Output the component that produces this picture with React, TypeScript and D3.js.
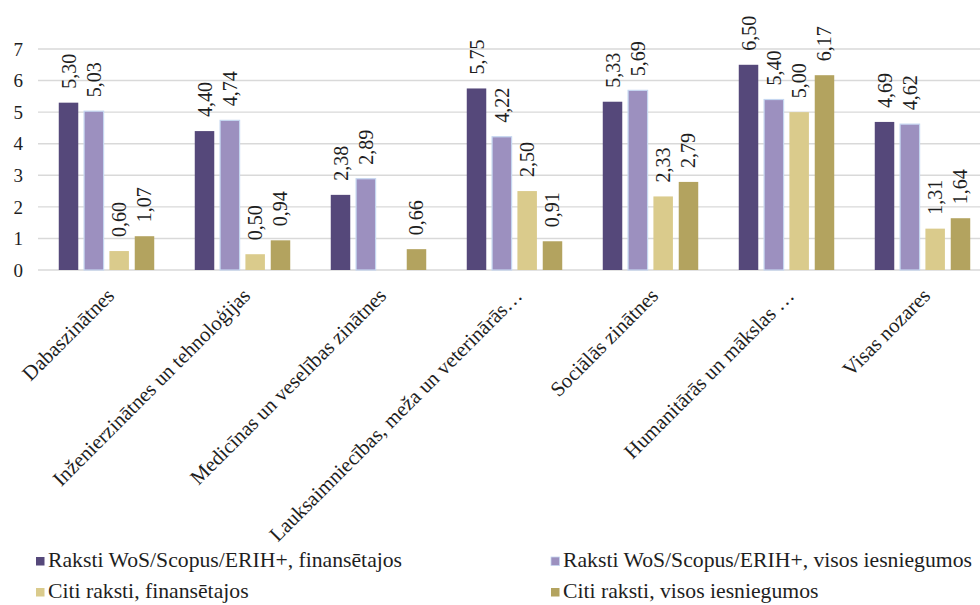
import React from "react";
import * as d3 from "d3";

const categories = [
  "Dabaszinātnes",
  "Inženierzinātnes un tehnoloģijas",
  "Medicīnas un veselības zinātnes",
  "Lauksaimniecības, meža un veterinārās…",
  "Sociālās zinātnes",
  "Humanitārās un mākslas  …",
  "Visas nozares",
];

const seriesNames = [
  "Raksti WoS/Scopus/ERIH+, finansētajos",
  "Raksti WoS/Scopus/ERIH+, visos iesniegumos",
  "Citi raksti, finansētajos",
  "Citi raksti, visos iesniegumos",
];

const wosFunded = [5.3, 4.4, 2.38, 5.75, 5.33, 6.5, 4.69];
const wosAll = [5.03, 4.74, 2.89, 4.22, 5.69, 5.4, 4.62];
const otherFunded: (number | null)[] = [0.6, 0.5, null, 2.5, 2.33, 5.0, 1.31];
const otherAll = [1.07, 0.94, 0.66, 0.91, 2.79, 6.17, 1.64];

const seriesValues = [wosFunded, wosAll, otherFunded, otherAll];
const yTicks = [0, 1, 2, 3, 4, 5, 6, 7];

const fills = ["#55487A", "#9C90BF", "#DACB8C", "#B3A35F"];
const strokes = ["none", "#C5D6F0", "none", "none"];

const W = 980;
const H = 605;
const FONT = "Liberation Serif";

export default function App() {
  const y = d3.scaleLinear().domain([0, 7]).range([270, 49]);
  const x0 = d3.scaleBand<string>().domain(categories).range([38.5, 990.5]).padding(0);
  const x1 = d3
    .scaleBand<number>()
    .domain([0, 1, 2, 3])
    .range([0, x0.bandwidth()])
    .paddingInner(0.23)
    .paddingOuter(0.8);
  const fmt = (v: number) => d3.format(".2f")(v).replace(".", ",");
  const txt = { fontFamily: FONT, fill: "#1e1e1e" } as React.CSSProperties;

  return (
    <svg
      width={W}
      height={H}
      style={{ position: "absolute", left: 0, top: 0, background: "#fff", fontFamily: FONT }}
    >
      {yTicks.map((t) => (
        <g key={t}>
          <line x1={38} x2={980} y1={y(t)} y2={y(t)} stroke="#D9D9D9" strokeWidth={1.4} />
          <text x={23} y={y(t)} dy="0.35em" textAnchor="end" fontSize={19} style={txt}>
            {t}
          </text>
        </g>
      ))}

      {categories.map((c, ci) => (
        <g key={c} transform={`translate(${x0(c)},0)`}>
          {seriesValues.map((vals, si) => {
            const v = vals[ci];
            if (v == null) return null;
            const bx = x1(si)!;
            const bw = x1.bandwidth();
            return (
              <g key={si}>
                <rect
                  x={bx}
                  y={y(v)}
                  width={bw}
                  height={y(0) - y(v)}
                  fill={fills[si]}
                  stroke={strokes[si]}
                  strokeWidth={1.2}
                />
                <text
                  transform={`translate(${bx + bw / 2},${y(v) - 14}) rotate(-90)`}
                  dy="0.35em"
                  textAnchor="start"
                  fontSize={20}
                  style={txt}
                >
                  {fmt(v)}
                </text>
              </g>
            );
          })}
          <text
            transform={`translate(${x0.bandwidth() / 2 + 9},${297}) rotate(-45)`}
            textAnchor="end"
            fontSize={20.8}
            style={txt}
          >
            {c}
          </text>
        </g>
      ))}

      {seriesNames.map((s, i) => {
        const col = i % 2;
        const row = Math.floor(i / 2);
        const lx = col === 0 ? 36 : 551;
        const base = row === 0 ? 567 : 598;
        return (
          <g key={s}>
            <rect
              x={lx}
              y={base - 10}
              width={8.5}
              height={8.5}
              fill={fills[i]}
              stroke={strokes[i]}
              strokeWidth={0.8}
            />
            <text x={lx + 12} y={base} fontSize={21.7} style={txt}>
              {s}
            </text>
          </g>
        );
      })}
    </svg>
  );
}
